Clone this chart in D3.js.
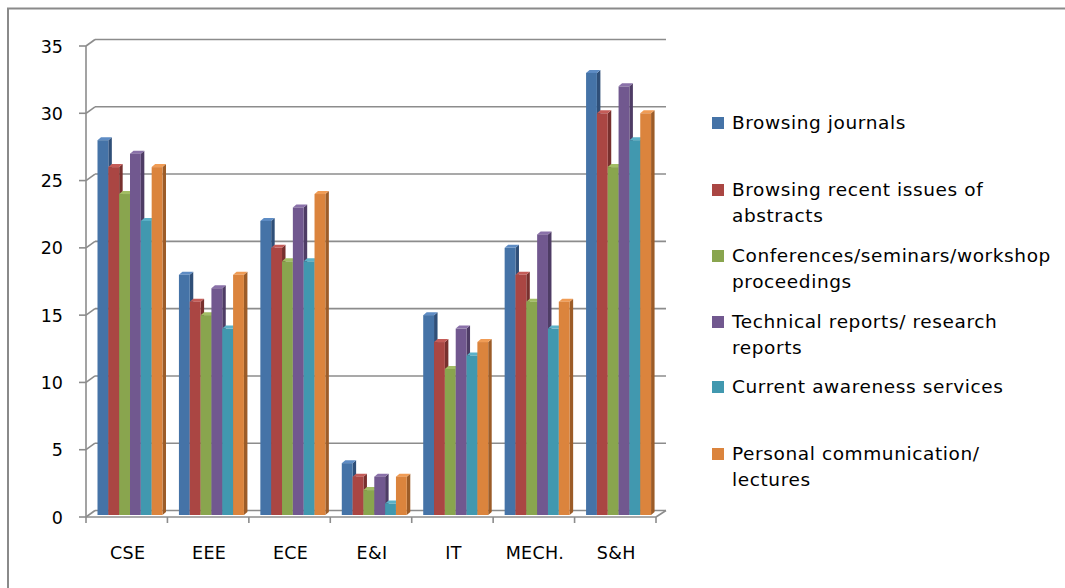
<!DOCTYPE html>
<html>
<head>
<meta charset="utf-8">
<script src="https://cdn.jsdelivr.net/npm/d3@7"></script>
<style>
  body { margin: 0; background: #fff; }
  svg { display: block; font-family: "DejaVu Sans", sans-serif; }
</style>
</head>
<body>
<svg id="chart" width="1065" height="588"></svg>
<script>
"use strict"

let categories = ["CSE", "EEE", "ECE", "E&I", "IT", "MECH.", "S&H"]
let seriesNames = [
    "Browsing journals",
    "Browsing recent issues of abstracts",
    "Conferences/seminars/workshop proceedings",
    "Technical reports/ research reports",
    "Current awareness services",
    "Personal communication/ lectures"
]
// one array per series, in category order
let browsingJournals = [28, 18, 22, 4, 15, 20, 33]
let recentAbstracts  = [26, 16, 20, 3, 13, 18, 30]
let conferences      = [24, 15, 19, 2, 11, 16, 26]
let techReports      = [27, 17, 23, 3, 14, 21, 32]
let awareness        = [22, 14, 19, 1, 12, 14, 28]
let personalComm     = [26, 18, 24, 3, 13, 16, 30]
let yTicks = [0, 5, 10, 15, 20, 25, 30, 35]

let legendLines = [
    ["Browsing journals"],
    ["Browsing recent issues of", "abstracts"],
    ["Conferences/seminars/workshop", "proceedings"],
    ["Technical reports/ research", "reports"],
    ["Current awareness services"],
    ["Personal communication/", "lectures"]
]

let allSeries = [browsingJournals, recentAbstracts, conferences, techReports, awareness, personalComm]

let colors = [
    { front: "#4573a7", top: "#5e8cc4", side: "#2f4f78" },
    { front: "#aa4643", top: "#c45c58", side: "#78302e" },
    { front: "#89a54e", top: "#a2bd64", side: "#5f7536" },
    { front: "#71588f", top: "#8a71a9", side: "#4e3c65" },
    { front: "#4198af", top: "#5bb1c8", side: "#2c6a7b" },
    { front: "#db843d", top: "#f09c55", side: "#9c5c28" }
]

let svg = d3.select("#chart")

// outer frame (runs off the right and bottom of the picture)
svg.append("path")
    .attr("d", "M8,600 L8,8.5 L1070,8.5")
    .attr("fill", "none")
    .attr("stroke", "#8a8a8a")
    .attr("stroke-width", 2)

let depthX = 9, depthY = 6.5

let y = d3.scaleLinear().domain([0, 35]).range([517, 46])
let x0 = d3.scaleBand().domain(categories).range([86, 656])
let x1 = d3.scaleBand().domain(d3.range(allSeries.length)).range([11.5, 76.5])

let grid = svg.append("g").attr("stroke", "#8c8c8c").attr("stroke-width", 1.6).attr("fill", "none")

// back wall gridlines + side wall diagonals + ticks
yTicks.forEach(function(t) {
    let yf = y(t)
    grid.append("line")
        .attr("x1", 86 + depthX).attr("x2", 656 + depthX + 1)
        .attr("y1", yf - depthY).attr("y2", yf - depthY)
    grid.append("line")
        .attr("x1", 86).attr("x2", 86 + depthX)
        .attr("y1", yf).attr("y2", yf - depthY)
    grid.append("line")
        .attr("x1", 79).attr("x2", 86)
        .attr("y1", yf).attr("y2", yf)
})

// y axis
grid.append("line").attr("x1", 86).attr("x2", 86).attr("y1", y(35)).attr("y2", y(0))

// floor front edge and right diagonal
grid.append("line").attr("x1", 86).attr("x2", 656).attr("y1", y(0)).attr("y2", y(0))
grid.append("line").attr("x1", 656).attr("x2", 656 + depthX + 1).attr("y1", y(0)).attr("y2", y(0) - depthY)

// x ticks at band edges
let edges = categories.map(function(c) { return x0(c) }).concat([x0.range()[1]])
edges.forEach(function(e) {
    grid.append("line").attr("x1", e).attr("x2", e).attr("y1", y(0)).attr("y2", y(0) + 6)
})

// y labels
svg.append("g").selectAll("text")
    .data(yTicks)
    .enter().append("text")
    .attr("x", 63)
    .attr("y", function(d) { return y(d) + 6.5 })
    .attr("text-anchor", "end")
    .attr("font-size", 17.5)
    .attr("fill", "#000")
    .text(function(d) { return d })

// x labels
svg.append("g").selectAll("text")
    .data(categories)
    .enter().append("text")
    .attr("x", function(d) { return x0(d) + x0.bandwidth() / 2 + 1 })
    .attr("y", 559)
    .attr("text-anchor", "middle")
    .attr("font-size", 17.5)
    .attr("letter-spacing", 0.3)
    .attr("fill", "#000")
    .text(function(d) { return d })

// 3D-ish bars
let bdx = 3.5, bdy = 3
let barBottom = y(0) - 2
let bars = svg.append("g")

categories.forEach(function(cat, ci) {
    allSeries.forEach(function(series, si) {
        let v = series[ci]
        let bx = x0(cat) + x1(si)
        let w = x1.bandwidth()
        let yt = y(v)
        let g = bars.append("g")
        g.append("polygon")
            .attr("points", [[bx + w, yt], [bx + w + bdx, yt - bdy], [bx + w + bdx, barBottom - bdy], [bx + w, barBottom]].join(" "))
            .attr("fill", colors[si].side)
        g.append("polygon")
            .attr("points", [[bx, yt], [bx + bdx, yt - bdy], [bx + w + bdx, yt - bdy], [bx + w, yt]].join(" "))
            .attr("fill", colors[si].top)
        g.append("rect")
            .attr("x", bx).attr("y", yt)
            .attr("width", w).attr("height", barBottom - yt)
            .attr("fill", colors[si].front)
    })
})

// legend
let legendY = [129, 196, 262, 328, 393, 460]
let legend = svg.append("g")
legendLines.forEach(function(lines, i) {
    legend.append("rect")
        .attr("x", 712).attr("y", legendY[i] - 12)
        .attr("width", 12).attr("height", 12)
        .attr("fill", colors[i].front)
    lines.forEach(function(line, li) {
        legend.append("text")
            .attr("x", 732)
            .attr("y", legendY[i] + li * 25.5)
            .attr("font-size", 18.5)
            .attr("letter-spacing", 0.6)
            .attr("fill", "#000")
            .text(line)
    })
})
</script>
</body>
</html>
